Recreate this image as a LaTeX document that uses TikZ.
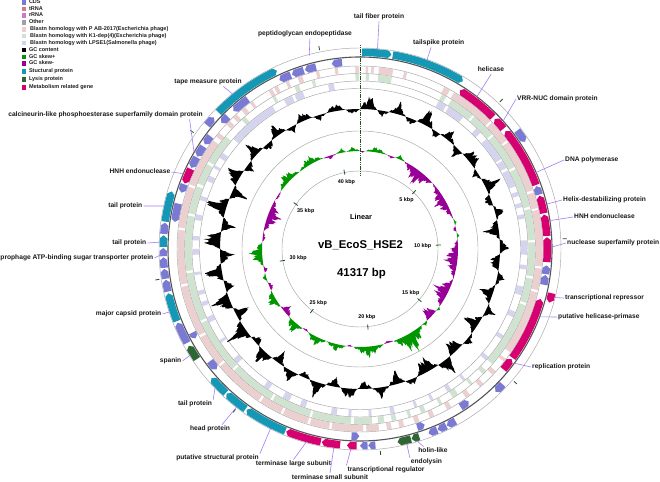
\documentclass[tikz,border=0pt]{standalone}
\usepackage{fontspec}
\setmainfont{Liberation Sans}
\usetikzlibrary{positioning}

\definecolor{cdsblue}{RGB}{122,122,212}
\definecolor{trnacol}{RGB}{208,128,128}
\definecolor{rrnacol}{RGB}{204,120,204}
\definecolor{othercol}{RGB}{160,160,160}
\definecolor{blastA}{RGB}{236,207,207}
\definecolor{blastB}{RGB}{208,226,208}
\definecolor{blastC}{RGB}{212,212,238}
\definecolor{skpos}{RGB}{0,150,0}
\definecolor{skneg}{RGB}{150,0,150}
\definecolor{structcol}{RGB}{20,152,182}
\definecolor{lysiscol}{RGB}{46,102,52}
\definecolor{metabcol}{RGB}{214,0,112}
\definecolor{leadcol}{RGB}{165,125,245}
\definecolor{ringgray}{RGB}{165,165,165}
\definecolor{bbonecol}{RGB}{85,85,85}
\definecolor{tickgreen}{RGB}{30,85,30}
\definecolor{legcol}{RGB}{30,30,30}

% gene on the forward ring, tip clockwise
\newcommand{\fwdgene}[3]{%
  \fill[fill=#3] ({90-(#1)}:200.5) arc[start angle={90-(#1)}, end angle={90-(#2)+0.9}, radius=200.5]
    -- ({90-(#2)}:196.75) -- ({90-(#2)+0.9}:193)
    arc[start angle={90-(#2)+0.9}, end angle={90-(#1)}, radius=193] -- cycle;}
% gene on the reverse ring, tip anticlockwise
\newcommand{\revgene}[3]{%
  \fill[fill=#3] ({90-(#1)-0.9}:191) arc[start angle={90-(#1)-0.9}, end angle={90-(#2)}, radius=191]
    -- ({90-(#2)}:183.5)
    arc[start angle={90-(#2)}, end angle={90-(#1)-0.9}, radius=183.5] -- ({90-(#1)}:187.25) -- cycle;}
% plain block on a ring
\newcommand{\ringseg}[5]{%
  \fill[fill=#5] ({90-(#1)}:#4) arc[start angle={90-(#1)}, end angle={90-(#2)}, radius=#4]
    -- ({90-(#2)}:#3) arc[start angle={90-(#2)}, end angle={90-(#1)}, radius=#3] -- cycle;}

\tikzset{
  declare function={tri(\s,\lo,\hi)=1-abs(2*(\s-\lo)/(\hi-\lo)-1);
    jag(\s)=0.62+0.18*sin(360*frac(0.269444*\s))+0.12*sin(360*frac(0.647222*\s)+50)
      +0.08*sin(360*frac(1.502778*\s)+20);},
  glabel/.style={font=\bfseries\fontsize{6.65}{8}\selectfont, text=black!90, inner sep=1pt,
    text height=5pt, text depth=1.4pt},
  leader/.style={draw=leadcol, line width=0.6pt},
  legtxt/.style={font=\bfseries\fontsize{5.5}{6}\selectfont, text=legcol, inner sep=0pt,
    anchor=west, text height=4pt, text depth=1pt},
  legsw/.style={minimum size=4.4pt, inner sep=0pt},
  thinring/.style={draw=ringgray, line width=0.45pt},
  bbone/.style={draw=bbonecol, line width=1.1pt},
  ticklab/.style={font=\bfseries\fontsize{5.4}{6}\selectfont, inner sep=0.5pt},
  kbtick/.style={draw=tickgreen, line width=0.8pt},
  startline/.style={draw=tickgreen, line width=1.4pt, dash pattern=on 1.2pt off 0.6pt}
}

\begin{document}
\begin{tikzpicture}[x=1pt,y=1pt]
  \useasboundingbox (0,0) rectangle (660,481);
  \fill[white] (0,0) rectangle (660,481);

  % legend
  \foreach \i/\yy/\col/\tx/\txt in {
    1/478.5/cdsblue/28.8/CDS, 2/472/trnacol/28.8/tRNA, 3/465.5/rrnacol/28.8/rRNA,
    4/458.5/othercol/28.8/Other,
    5/451.5/blastA/30/Blastn homology with P AB-2017(Escherichia phage),
    6/445/blastB/30/Blastn homology with K1-dep(4)(Escherichia phage),
    7/438/blastC/30/Blastn homology with LPSE1(Salmonella phage),
    8/431/black/28.8/GC content, 9/424/skpos/28.8/GC skew+, 10/417.5/skneg/28.8/GC skew-,
    11/409.5/structcol/28.8/Stuctural protein, 12/401.5/lysiscol/28.8/Lysis protein,
    13/393.5/metabcol/28.8/Metabolism related gene}{
    \node[legsw, fill=\col] (sw\i) at (23.9,\yy) {};
    \node[legtxt] (lg\i) at (\tx,\yy) {\txt};
  }

  \begin{scope}[shift={(360,232)}]
    % blastn homology rings
    \foreach \sa/\sb in {-1.5/-0.3, 1.8/2.6, 3.6/4.4, 6/10.5, 14/15, 27.5/29.5, 31/45.5,
      46.2/53.5, 54.2/71.2, 72/77, 77.6/95.5, 96.2/103, 103.8/124.5, 127/128, 132/133.5,
      137.5/139, 143/144.5, 150/151.5, 156/157.5, 161/162.5, 166/167.5, 170/171.5, 174/178,
      179/189, 189.8/196, 196.8/205, 205.8/213, 213.8/230, 230.8/241, 241.8/258, 258.8/276,
      276.8/290, 290.8/306.5, 308/309.5, 313/314.5, 316/317.5, 319.5/321, 323/324,
      330/331.2, 332/333.2, 336/337, 340/341.5, 346/347, 352/353}
      \ringseg{\sa}{\sb}{176}{182.5}{blastA};
    \foreach \sa/\sb in {-1.5/-0.3, 2/3, 6/10.5, 28/29.5, 31.5/40, 40.8/49, 49.8/62,
      62.8/76, 76.8/87, 87.8/99, 99.8/108, 108.8/131, 134/135.5, 140/141, 146/148,
      152/153, 158/159.5, 163/164, 168/169.5, 172/174, 176/182, 183/196, 196.8/210,
      210.8/226, 226.8/245, 245.8/262, 262.8/281, 281.8/291, 292/299, 300/310,
      317.5/319, 330/331, 338/339.5, 344/345}
      \ringseg{\sa}{\sb}{168.5}{175}{blastB};
    \foreach \sa/\sb in {28/31, 32/38, 44/46, 49/57.5, 58.2/61, 62/68, 70/71.5, 74/75.5,
      78/79.5, 87/92, 95.5/97, 103/106, 112/114, 121/122.5, 130/131.5, 141/142, 147/148.5,
      154/155, 160/161, 168/169.5, 176/177, 183/184, 188/190, 199/201, 205/207.5, 213/215,
      227/229, 236/237, 244/246, 250/251.5, 254/255.5, 261/262, 268/270, 273/274.5,
      280/282, 287/288.5, 294/296, 299/300, 303/305, 311/328.5, 333/336, 337/340, 349/351}
      \ringseg{\sa}{\sb}{161}{167.5}{blastC};

    % ring outlines and backbone
    \foreach \r in {201,183,175.5,168,160.5,118,78}
      \draw[thinring] (0,0) circle[radius=\r];
    \draw[bbone] (0,0) circle[radius=192];

    % forward strand genes
    \foreach \fa/\fb/\fc in {0.6/9.2/structcol, 9.6/31.5/structcol, 53/57/cdsblue,
      103/105.8/metabcol, 133.5/136.5/cdsblue, 151/153.8/cdsblue, 154/156.7/cdsblue,
      156.9/159.6/cdsblue, 162.5/164.8/lysiscol, 165/169/lysiscol, 175.5/177.6/cdsblue,
      177.8/180/cdsblue, 181/183.8/metabcol, 185.8/191.2/metabcol, 191.5/202/metabcol,
      202.3/215.2/structcol, 215.6/222.7/structcol, 223/229/structcol, 236/240.5/lysiscol,
      241.5/248/cdsblue, 248.5/257/structcol, 257.5/261/cdsblue, 261.3/264.2/cdsblue,
      264.5/267.6/cdsblue, 267.9/270.3/cdsblue, 270.6/274/structcol, 274.4/277.7/cdsblue,
      278/287/structcol, 309/312/cdsblue, 314/335/structcol}
      \fwdgene{\fa}{\fb}{\fc};
    % reverse strand genes
    \foreach \fa/\fb/\fc in {32.2/45.2/metabcol, 46/50/metabcol, 51/70/metabcol,
      70.4/73.1/cdsblue, 73.5/79/metabcol, 79.4/86/metabcol, 86.4/94/metabcol,
      95/97.7/cdsblue, 98/101/cdsblue, 105.5/125.5/metabcol, 126/130/metabcol,
      144.5/147.5/cdsblue, 159.8/162.2/cdsblue, 180.2/182.6/cdsblue, 230/233.2/cdsblue,
      241.5/243.5/cdsblue, 278.3/284/cdsblue, 287.5/290.2/cdsblue, 290.5/295.3/metabcol,
      295.7/299.3/cdsblue, 299.6/303.2/cdsblue, 304/307/cdsblue, 312.3/315/cdsblue,
      317.5/323.2/cdsblue, 334.5/338.3/cdsblue, 338.7/342.5/cdsblue, 342.9/346.4/cdsblue,
      351.3/354.5/cdsblue}
      \revgene{\fa}{\fb}{\fc};

    % GC content
    \foreach \ga/\gb/\gh in {-14/-6/7, -6/0/-5, 0/7/13, 7/12/-6, 12/19/10, 19/24/-7,
      24/31/15, 31/35/-8, 35/42/9, 42/47/-10, 47/55/12, 55/60/-6, 60/67/14, 67/72/-9,
      72/78/8, 78/86/-13, 86/92/9, 92/99/-11, 99/105/7, 105/113/-12, 113/119/8,
      119/127/-14, 127/133/6, 133/140/-15, 140/146/16, 146/156/-15, 156/161/7,
      161/168/-12, 168/175/9, 175/181/-8, 181/188/11, 188/194/-9, 194/201/13, 201/206/-7,
      206/213/10, 213/219/-11, 219/226/14, 226/231/-8, 231/239/17, 239/245/-13,
      245/252/18, 252/257/-10, 257/264/16, 264/270/-14, 270/277/19, 277/283/-12,
      283/291/19, 291/297/-14, 297/304/15, 304/309/-9, 309/316/12, 316/321/-8,
      321/328/11, 328/333/-6, 333/340/9, 340/346/-5}{
      \pgfmathtruncatemacro{\ns}{4*(\gb-\ga)+2}
      \fill[black] plot[domain=\ga:\gb, samples=\ns, variable=\t]
        ({90-\t}:{140+1.45*\gh*tri(\t,\ga,\gb)*jag(\t)})
        arc[start angle={90-\gb}, end angle={90-\ga}, radius=140] -- cycle;
    }

    % GC skew
    \foreach \ga/\gb/\gh in {-8/0/5, 3/16/6, 21/27/5, 72/76/3, 80/84/2.5, 126/129/3,
      137/141/4, 141/160/22, 166/184/12, 188/200/8, 200/212/10, 216/226/13, 234/245/11,
      250/256/4, 260/274/15, 306/322/11, 322/338/9, 346/352/5}{
      \pgfmathtruncatemacro{\ns}{4*(\gb-\ga)+2}
      \fill[skpos] plot[domain=\ga:\gb, samples=\ns, variable=\t]
        ({90-\t}:{98+1.1*\gh*tri(\t,\ga,\gb)*jag(\t)})
        arc[start angle={90-\gb}, end angle={90-\ga}, radius=98] -- cycle;
    }
    \foreach \ga/\gb/\gh in {0/3/-2, 16/21/-3, 27/48/-17, 48/72/-13, 76/80/-4, 84/108/-15,
      108/126/-18, 129/137/-16, 160/166/-3, 184/188/-2, 212/216/-3, 226/234/-10,
      245/250/-6, 256/260/-5, 274/280/-4, 280/300/-15, 300/306/-3, 338/346/-4}{
      \pgfmathtruncatemacro{\ns}{4*(\gb-\ga)+2}
      \fill[skneg] plot[domain=\ga:\gb, samples=\ns, variable=\t]
        ({90-\t}:{98+1.1*\gh*tri(\t,\ga,\gb)*jag(\t)})
        arc[start angle={90-\gb}, end angle={90-\ga}, radius=98] -- cycle;
    }

    % 5 kbp ticks
    \foreach \k in {1,...,8}{
      \pgfmathsetmacro{\ph}{\k*43.566}
      \pgfmathtruncatemacro{\kb}{5*\k}
      \draw[kbtick] ({90-\ph}:76) -- ({90-\ph}:81);
      \draw[kbtick] ({90-\ph}:203) -- ({90-\ph}:207);
      \node[ticklab, anchor={90-\ph}] (kb\k) at ({90-\ph}:72) {\kb\ kbp};
    }
  \end{scope}

  % start of the linear sequence
  \coordinate (lintop) at (360.5,436);
  \coordinate (linbot) at (360.5,306);
  \draw[startline] (lintop) -- (linbot);

  % centre
  \node[font=\bfseries\fontsize{7.3}{8}\selectfont] (lin) at (361,264) {Linear};
  \node[font=\bfseries\fontsize{11.3}{13}\selectfont] (name) at (360.5,236) {vB\_EcoS\_HSE2};
  \node[font=\bfseries\fontsize{11.4}{13}\selectfont] (size) at (361.5,207) {41317 bp};

  % gene labels
  \foreach \n/\txt/\px/\py/\anc/\fr/\ang/\rad in {
    tf/tail fiber protein/379/464/center/south/5/200,
    ts/tailspike protein/412/438/west/-150/19.5/200,
    hel/helicase/491/411/center/south/37.5/192,
    vrr/VRR-NUC domain protein/516/382/west/west/48.2/192,
    dna/DNA polymerase/564/321/west/west/66.5/192,
    hds/Helix-destabilizing protein/562/281/west/west/76.5/192,
    hnha/HNH endonuclease/573/264/west/west/81.5/192,
    nsp/nuclease superfamily protein/566/238/west/west/89.4/192,
    trp/transcriptional repressor/564/183/west/west/104/200.5,
    hpr/putative helicase-primase/557/164/west/west/110.7/192,
    rep/replication protein/531/114/west/west/126.5/192,
    hol/holin-like/433/30/center/155/163.5/200,
    end/endolysin/426.5/19/center/north west/166.5/200,
    trg/transcriptional regulator/386/11/center/north west/182.6/200,
    tss/terminase small subunit/330/3.5/center/north/187.5/200,
    tls/terminase large subunit/293.5/17/center/north/195.5/200,
    psp/putative structural protein/217.5/23/center/north east/206.5/200,
    hd/head protein/210/52/center/20/218/200,
    tpc/tail protein/195/77/center/north east/226.4/200,
    spn/spanin/182.5/120/east/east/238/200,
    mcp/major capsid protein/162.5/167/east/east/251.7/200,
    abc/prophage ATP-binding sugar transporter protein/154.5/223/east/east/268.5/198,
    tpb/tail protein/147.5/238/east/east/272/199,
    tpa/tail protein/143.5/275/east/east/282.4/200,
    hnhb/HNH endonuclease/171.5/309/east/east/293.1/192,
    cal/calcineurin-like phosphoesterase superfamily domain protein/105.5/366/center/-3/300.2/192,
    tmp/tape measure protein/208/399/center/-16/320.6/200,
    pep/peptidoglycan endopeptidase/305/447/center/-42/345.3/200}{
    \node[glabel, anchor=\anc] (l\n) at (\px,\py) {\txt};
    \coordinate (p\n) at ({360+\rad*sin(\ang)},{232+\rad*cos(\ang)});
    \draw[leader] (l\n.\fr) -- (p\n);
  }
\end{tikzpicture}
\end{document}
